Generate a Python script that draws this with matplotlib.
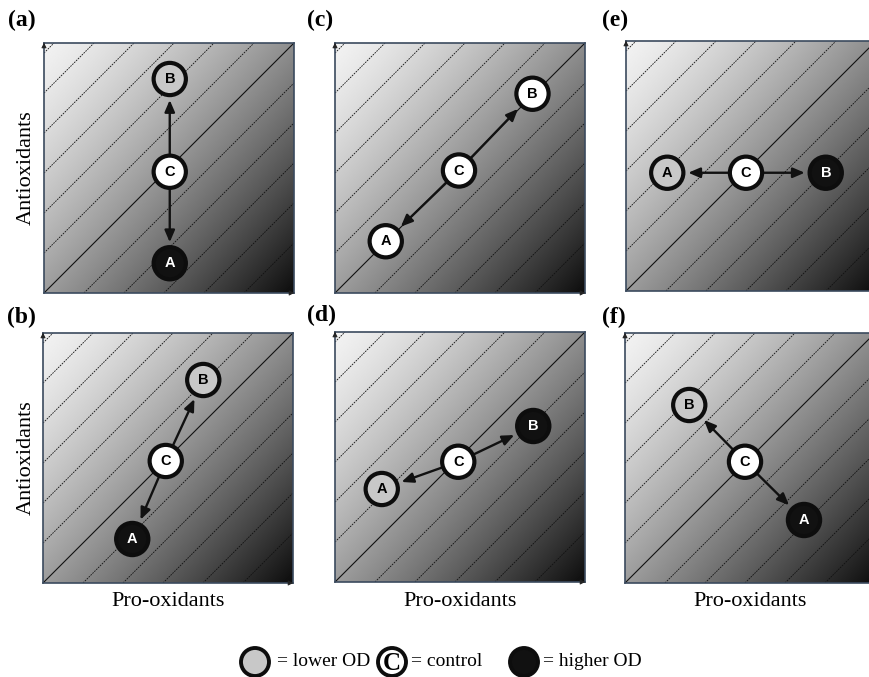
import numpy as np
import matplotlib
matplotlib.use("Agg")
from matplotlib import pyplot as plt
from matplotlib.patches import Circle, FancyArrowPatch

# panel order: (a) (b) (c) (d) (e) (f)
panel_labels = ["(a)", "(b)", "(c)", "(d)", "(e)", "(f)"]

# control point and the two treatments, in axis units (0..1)
ctrl_x = [0.503, 0.491, 0.496, 0.493, 0.480, 0.480]
ctrl_y = [0.485, 0.488, 0.490, 0.481, 0.473, 0.485]
a_x = [0.503, 0.357, 0.203, 0.187, 0.165, 0.716]
a_y = [0.119, 0.176, 0.207, 0.372, 0.473, 0.252]
b_x = [0.503, 0.641, 0.790, 0.793, 0.799, 0.257]
b_y = [0.856, 0.812, 0.797, 0.624, 0.473, 0.712]
a_state = ["higher", "higher", "control", "lower", "lower", "higher"]
b_state = ["lower", "lower", "control", "higher", "higher", "lower"]

# iso-lines y = x + c
iso_offsets = [-0.96, -0.80, -0.64, -0.48, -0.32, -0.16, 0.16, 0.32, 0.48, 0.64, 0.80, 0.96]

legend_labels = ["= lower OD", "= control", "= higher OD"]
legend_states = ["lower", "control", "higher"]

FILL = {"lower": "#c8c8c8", "control": "white", "higher": "#111111"}
TXT = {"lower": "black", "control": "black", "higher": "white"}

W, H = 869, 677
fig = plt.figure(figsize=(W / 100, H / 100), dpi=100)
fig.patch.set_facecolor("white")

# pixel placement of the panels (left, top), 250 px square
panel_pos = [(44, 43), (43, 333), (335, 43), (335, 332), (626, 41), (625, 333)]
label_pos = [(8, 20), (7, 317), (307, 20), (307, 315), (602, 20), (602, 317)]
SIZE = 250
R = 0.072  # outer circle radius in axis units

# background shading: white top-left to black bottom-right
g = np.linspace(0, 1, 400)
X, Y = np.meshgrid(g, g)
t = (X + 1 - Y) / 2 + 0.03 * (X + Y - 1)
shade = np.clip(0.95 - 0.90 * np.clip(t, 0, 1) ** 1.3, 0, 1)

serif = ["Liberation Serif", "DejaVu Serif"]
sans = ["Liberation Sans", "DejaVu Sans"]


def draw_node(ax, x, y, state, letter):
    lw = 3.0
    ax.add_patch(Circle((x, y), R - 0.0075, facecolor=FILL[state], edgecolor="#0d0d0d",
                        linewidth=lw, zorder=5))
    ax.text(x, y, letter, ha="center", va="center", fontsize=10.5, fontweight="bold",
            family=sans, color=TXT[state], zorder=6)


def draw_arrow(ax, x0, y0, x1, y1):
    d = np.array([x1 - x0, y1 - y0])
    u = d / np.hypot(*d)
    start = np.array([x0, y0]) + u * (R - 0.002)
    end = np.array([x1, y1]) - u * (R + 0.012)
    ax.add_patch(FancyArrowPatch(start, end, arrowstyle="-|>,head_length=0.7,head_width=0.3",
                                 mutation_scale=10, color="#111111", linewidth=1.7,
                                 shrinkA=0, shrinkB=0, zorder=4))


for i in range(6):
    left, top = panel_pos[i]
    ax = fig.add_axes([left / W, 1 - (top + SIZE) / H, SIZE / W, SIZE / H])
    ax.imshow(shade, cmap="gray", vmin=0, vmax=1, origin="lower",
              extent=(0, 1, 0, 1), interpolation="bilinear", zorder=0)
    ax.plot([0, 1], [0, 1], color="#111111", linewidth=0.8, zorder=2)
    for c in iso_offsets:
        xs = np.array([max(0, -c), min(1, 1 - c)])
        ax.plot(xs, xs + c, color="#111111", linewidth=0.6, linestyle=(0, (2.0, 1.2)), zorder=2)
    ax.set_xlim(0, 1)
    ax.set_ylim(0, 1)
    ax.set_xticks([])
    ax.set_yticks([])
    for s in ax.spines.values():
        s.set_color("#3b4a5e")
        s.set_linewidth(1.2)
    # small axis arrowheads
    ax.annotate("", xy=(0.0, 1.012), xytext=(0.0, 0.98),
                arrowprops=dict(arrowstyle="-|>,head_length=0.3,head_width=0.15",
                                color="#222222", lw=0.6), annotation_clip=False)
    ax.annotate("", xy=(1.012, 0.0), xytext=(0.98, 0.0),
                arrowprops=dict(arrowstyle="-|>,head_length=0.3,head_width=0.15",
                                color="#222222", lw=0.6), annotation_clip=False)

    draw_arrow(ax, ctrl_x[i], ctrl_y[i], a_x[i], a_y[i])
    draw_arrow(ax, ctrl_x[i], ctrl_y[i], b_x[i], b_y[i])
    draw_node(ax, a_x[i], a_y[i], a_state[i], "A")
    draw_node(ax, b_x[i], b_y[i], b_state[i], "B")
    draw_node(ax, ctrl_x[i], ctrl_y[i], "control", "C")

# overlay in pixel coordinates for labels and the key
ov = fig.add_axes([0, 0, 1, 1], zorder=10)
ov.set_xlim(0, W)
ov.set_ylim(H, 0)
ov.axis("off")
ov.patch.set_alpha(0)

for lab, (x, y) in zip(panel_labels, label_pos):
    ov.text(x, y, lab, fontsize=17, fontweight="bold", family=serif, ha="left", va="center")

for yc in [168, 458]:
    ov.text(26, yc, "Antioxidants", fontsize=16, family=serif, rotation=90,
            ha="center", va="center")
for xc in [168, 460, 750]:
    ov.text(xc, 602, "Pro-oxidants", fontsize=16, family=serif, ha="center", va="center")

# key along the bottom
key_x = [255, 392, 524]
key_text_x = [277, 411, 543]
for kx, tx, st, lab in zip(key_x, key_text_x, legend_states, legend_labels):
    ov.add_patch(Circle((kx, 662), 14, facecolor=FILL[st], edgecolor="#0d0d0d",
                        linewidth=2.8, zorder=5))
    if st == "control":
        ov.text(kx, 663, "C", fontsize=18, fontweight="bold", family=serif,
                ha="center", va="center", zorder=6)
    ov.text(tx, 662, lab, fontsize=14, family=serif, ha="left", va="center")

fig.savefig("out.png", dpi=100)
